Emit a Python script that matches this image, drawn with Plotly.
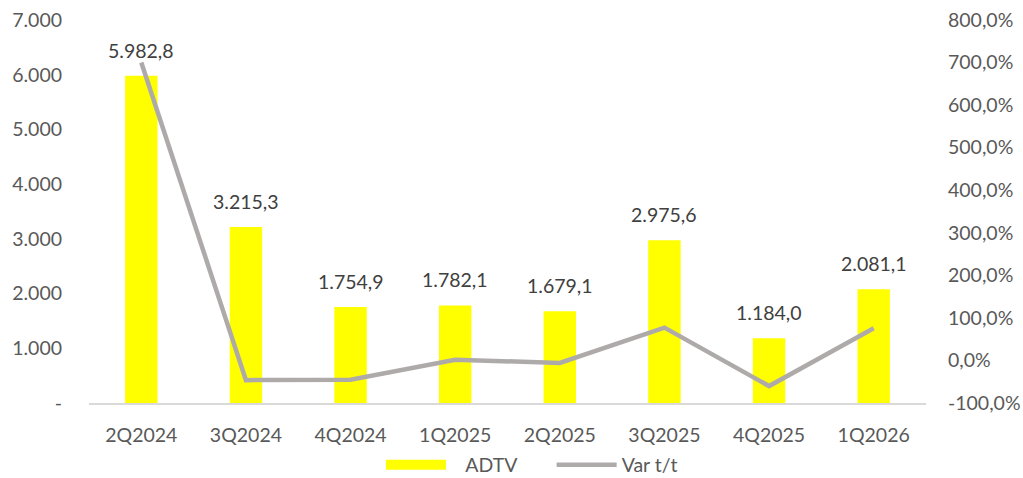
import plotly.graph_objects as go

categories = ["2Q2024", "3Q2024", "4Q2024", "1Q2025", "2Q2025", "3Q2025", "4Q2025", "1Q2026"]
adtv = [5982.8, 3215.3, 1754.9, 1782.1, 1679.1, 2975.6, 1184.0, 2081.1]
var_tt = [700.0, -46.3, -45.4, 1.6, -5.8, 77.2, -60.2, 75.8]

left_ticks = [0, 1000, 2000, 3000, 4000, 5000, 6000, 7000]
left_ticktext = ["-", "1.000", "2.000", "3.000", "4.000", "5.000", "6.000", "7.000"]
right_ticks = [-100, 0, 100, 200, 300, 400, 500, 600, 700, 800]
right_ticktext = ["-100,0%", "0,0%", "100,0%", "200,0%", "300,0%", "400,0%",
                  "500,0%", "600,0%", "700,0%", "800,0%"]

FONT = "Lato, Noto Sans, sans-serif"
TICK = "#595959"
SIZE = 19.5
NB = "\u00a0"

def fmt(v):
    s = f"{v:,.1f}"
    return s.replace(",", "X").replace(".", ",").replace("X", ".")

fig = go.Figure()
fig.add_trace(go.Bar(
    x=categories, y=adtv, name="ADTV", showlegend=False,
    marker=dict(color="#FFFF00", line=dict(width=0)),
    width=0.31, yaxis="y",
))
# legend entry for ADTV (wide yellow swatch)
fig.add_trace(go.Scatter(
    x=[categories[0]], y=[None], name=NB * 3 + "ADTV" + NB * 6, mode="lines",
    line=dict(color="#FFFF00", width=15), yaxis="y", showlegend=True,
))
fig.add_trace(go.Scatter(
    x=categories, y=var_tt, name="Var t/t", mode="lines",
    line=dict(color="#AEAAAA", width=4.5),
    yaxis="y2",
))

for c, v in zip(categories, adtv):
    fig.add_annotation(x=c, y=v, xref="x", yref="y", text=fmt(v), showarrow=False,
                       yanchor="bottom", yshift=12,
                       font=dict(size=SIZE, color="#404040", family=FONT))

fig.update_layout(
    width=1023, height=478,
    margin=dict(l=89, r=97, t=20, b=75, autoexpand=False),
    paper_bgcolor="white", plot_bgcolor="white",
    font=dict(family=FONT, size=SIZE, color=TICK),
    showlegend=True,
    legend=dict(orientation="h", xref="container", yref="paper",
                x=0.52, xanchor="center", y=-0.162, yanchor="middle",
                bgcolor="rgba(0,0,0,0)",
                font=dict(size=SIZE, color=TICK), itemwidth=60,
                traceorder="normal"),
    xaxis=dict(showgrid=False, showline=True, linecolor="#D9D9D9", linewidth=1.5,
               ticks="", tickfont=dict(size=SIZE, color=TICK), ticklabelstandoff=14),
    yaxis=dict(range=[0, 7000], tickvals=left_ticks, ticktext=left_ticktext,
               showgrid=False, zeroline=False, showline=False, ticks="",
               tickfont=dict(size=SIZE, color=TICK), ticklabelstandoff=26),
    yaxis2=dict(range=[-100, 800], tickvals=right_ticks, ticktext=right_ticktext,
                overlaying="y", side="right",
                showgrid=False, zeroline=False, showline=False, ticks="",
                tickfont=dict(size=SIZE, color=TICK), ticklabelstandoff=21),
    bargap=0.69,
)

fig.write_html("out.html")
